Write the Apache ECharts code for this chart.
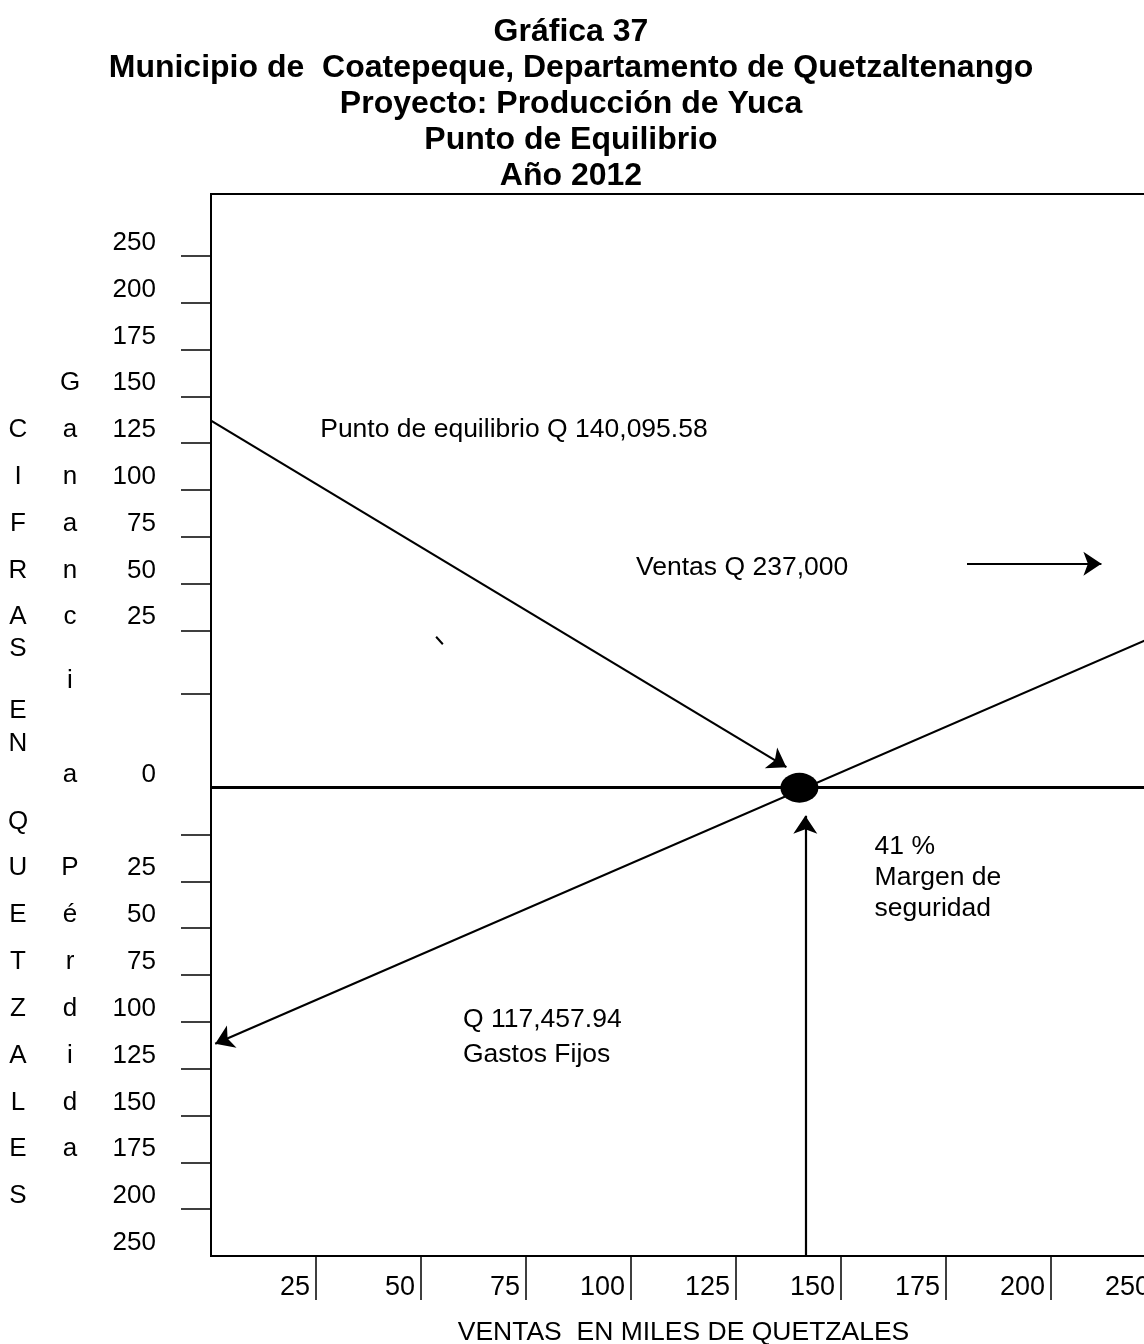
<!DOCTYPE html>
<html>
<head>
<meta charset="utf-8">
<script src="https://cdn.jsdelivr.net/npm/echarts@6/dist/echarts.min.js"></script>
<style>
  html, body { margin: 0; padding: 0; background: #fff; }
  #main { width: 1144px; height: 1344px; }
</style>
</head>
<body>
<div id="main"></div>
<script>
// Gráfica 37 - punto de equilibrio, producción de yuca
var chart = echarts.init(document.getElementById('main'));

// eje X: posiciones (miles de Q) y etiquetas
const xTicks = [25, 50, 75, 100, 125, 150, 175, 200, 225];
const xLabels = ['25', '50', '75', '100', '125', '150', '175', '200', '250'];

// eje Y: parte de ganancia y parte de pérdida
const yGainTicks = [284, 259, 234, 209, 184, 159, 134, 109, 84, 50];
const yGainLabels = ['250', '200', '175', '150', '125', '100', '75', '50', '25'];
const yLossTicks = [-25, -50, -75, -100, -125, -150, -175, -200, -225];
const yLossLabels = ['25', '50', '75', '100', '125', '150', '175', '200', '250'];

// letras verticales
const gananciaLetters = ['G', 'a', 'n', 'a', 'n', 'c', 'i', 'a'];
const perdidaLetters = ['P', 'é', 'r', 'd', 'i', 'd', 'a'];
const cifrasLetters = ['C', 'I', 'F', 'R', 'A', 'S', 'E', 'N', 'Q', 'U', 'E', 'T', 'Z', 'A', 'L', 'E', 'S'];

// líneas del gráfico
const breakEven = [140.1, 0];
const ventasLine = [[225, 81.2], [1, -136.7]];
const equilibrioArrow = [[0, 196], [137, 11]];
const ventasArrow = [[180, 119.6], [212, 119.6]];
const margenArrow = [[141.5, -250], [141.5, -15]];
const zeroLine = [[0, 0], [225, 0]];
const strayMark = [[53.6, 80.6], [55.2, 76.6]];

// posiciones de etiquetas (layout)
const labelShift = 8.5;
const yLabelPos = [];
const yLabelText = [];
for (let i = 0; i < yGainLabels.length; i++) {
    yLabelPos.push(291 - 25 * i);
    yLabelText.push(yGainLabels[i]);
}
yLabelPos.push(labelShift - 1.5); yLabelText.push('0');
for (let i = 0; i < yLossLabels.length; i++) {
    yLabelPos.push(-43 - 25 * i);
    yLabelText.push(yLossLabels[i]);
}
const gananciaPos = [216, 191, 166, 141, 116, 91, 57.3, 7];
const perdidaPos = [-43, -68, -93, -118, -143, -168, -193];
const cifrasPos = [191, 166, 141, 116, 91, 74.4, 41.2, 23.6, -18.1,
    -43, -68, -93, -118, -143, -168, -193, -218];

function lookup(pos, txt) {
    return function (v) {
        for (let i = 0; i < pos.length; i++) {
            if (Math.abs(pos[i] - v) < 0.01) return txt[i];
        }
        return '';
    };
}

const font = 'Liberation Sans, Arial, sans-serif';
const yMin = -250, yMax = 317;

function letterAxis(offset, pos, txt) {
    return {
        type: 'value', position: 'left', offset: offset,
        min: yMin, max: yMax,
        axisLine: { show: false, onZero: false }, axisTick: { show: false }, splitLine: { show: false },
        axisLabel: {
            customValues: pos, formatter: lookup(pos, txt),
            align: 'center', margin: 0, color: '#000', fontSize: 26, fontFamily: font
        }
    };
}

var option = {
    backgroundColor: '#fff',
    animation: false,
    title: {
        text: 'Gráfica 37\nMunicipio de  Coatepeque, Departamento de Quetzaltenango\nProyecto: Producción de Yuca\nPunto de Equilibrio\nAño 2012',
        left: 566, top: 9, textAlign: 'center',
        textStyle: { fontSize: 32, fontWeight: 'bold', fontFamily: font, color: '#000', lineHeight: 36 }
    },
    grid: {
        left: 211, top: 194, width: 945, height: 1062,
        outerBoundsMode: 'none',
        show: true, borderColor: '#000', borderWidth: 2
    },
    xAxis: {
        type: 'value', min: 0, max: 225,
        name: 'VENTAS  EN MILES DE QUETZALES', nameLocation: 'middle', nameGap: 63,
        nameTextStyle: { fontSize: 26.5, fontFamily: font, color: '#000' },
        axisLine: { onZero: false, lineStyle: { color: '#000', width: 2 } },
        axisTick: { customValues: xTicks, length: 44, lineStyle: { color: '#000', width: 1.5 } },
        splitLine: { show: false },
        axisLabel: {
            customValues: xTicks, formatter: lookup(xTicks, xLabels),
            align: 'right', padding: [0, 6, 0, 0], margin: 18,
            color: '#000', fontSize: 27, fontFamily: font
        }
    },
    yAxis: [
        {
            type: 'value', position: 'left', min: yMin, max: yMax,
            axisLine: { show: true, onZero: false, lineStyle: { color: '#000', width: 2 } },
            axisTick: { customValues: yGainTicks.concat(yLossTicks), length: 30, lineStyle: { color: '#000', width: 1.5 } },
            splitLine: { show: false },
            axisLabel: {
                customValues: yLabelPos, formatter: lookup(yLabelPos, yLabelText),
                margin: 55, color: '#000', fontSize: 26, fontFamily: font
            }
        },
        letterAxis(141, gananciaPos.concat(perdidaPos), gananciaLetters.concat(perdidaLetters)),
        letterAxis(193, cifrasPos, cifrasLetters)
    ],
    series: [
        {
            type: 'lines', coordinateSystem: 'cartesian2d',
            symbol: ['none', 'none'],
            lineStyle: { color: '#000', width: 3, opacity: 1 },
            data: [{ coords: zeroLine }]
        },
        {
            type: 'lines', coordinateSystem: 'cartesian2d',
            symbol: ['none', 'arrow'], symbolSize: 18,
            lineStyle: { color: '#000', width: 2.2, opacity: 1 },
            data: [
                { coords: ventasLine },
                { coords: equilibrioArrow },
                { coords: ventasArrow },
                { coords: margenArrow }
            ]
        },
        {
            type: 'lines', coordinateSystem: 'cartesian2d',
            symbol: ['none', 'none'],
            lineStyle: { color: '#000', width: 2, opacity: 1 },
            data: [{ coords: strayMark }]
        },
        {
            type: 'scatter', symbol: 'circle', symbolSize: [38, 30],
            itemStyle: { color: '#000', opacity: 1 }, z: 5,
            data: [breakEven]
        },
        {
            // textos del gráfico
            type: 'scatter', symbolSize: 0, silent: true,
            itemStyle: { opacity: 1 },
            label: {
                show: true, position: 'right', distance: 0,
                color: '#000', fontSize: 26.5, fontFamily: font
            },
            data: [
                { value: [26, 191], label: { formatter: 'Punto de equilibrio Q 140,095.58' } },
                { value: [101.2, 117.5], label: { formatter: 'Ventas Q 237,000' } },
                { value: [158, -48], label: { formatter: '41 %\nMargen de\nseguridad', lineHeight: 31 } },
                { value: [60, -133], label: { formatter: 'Q 117,457.94\nGastos Fijos', lineHeight: 35 } }
            ]
        }
    ]
};

chart.setOption(option);
</script>
</body>
</html>
